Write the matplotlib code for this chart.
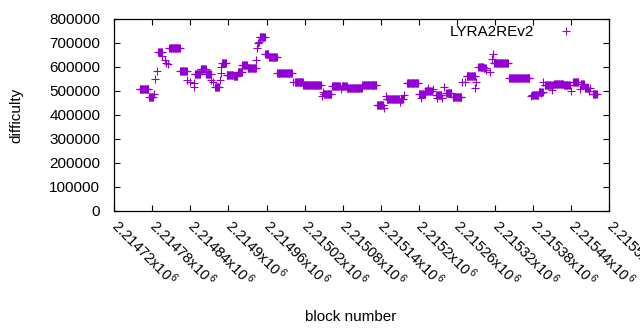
import numpy as np
import matplotlib
matplotlib.use("Agg")
import matplotlib.pyplot as plt

plt.rcParams['font.family'] = ['Liberation Sans', 'DejaVu Sans']
plt.rcParams['mathtext.fontset'] = 'custom'
plt.rcParams['mathtext.rm'] = 'Liberation Sans'
plt.rcParams['mathtext.default'] = 'regular'

# ---- data: runs of blocks with constant difficulty ----
seg_start = [2214760, 2214775, 2214782, 2214784, 2214787, 2214789, 2214796, 2214800, 2214802, 2214805,
             2214807, 2214824, 2214835, 2214839, 2214845, 2214846, 2214847, 2214856, 2214865, 2214873,
             2214876, 2214879, 2214886, 2214888, 2214889, 2214890, 2214897, 2214908, 2214915, 2214922,
             2214930, 2214944, 2214945, 2214946, 2214948, 2214949, 2214958, 2214964, 2214977, 2215002,
             2215005, 2215018, 2215048, 2215049, 2215050, 2215063, 2215077, 2215079, 2215087, 2215111,
             2215134, 2215145, 2215148, 2215149, 2215170, 2215171, 2215177, 2215181, 2215200, 2215204,
             2215205, 2215210, 2215214, 2215215, 2215222, 2215227, 2215229, 2215230, 2215236, 2215240,
             2215243, 2215253, 2215268, 2215272, 2215275, 2215289, 2215290, 2215293, 2215295, 2215302,
             2215306, 2215312, 2215315, 2215317, 2215318, 2215342, 2215376, 2215378, 2215389, 2215393,
             2215394, 2215396, 2215398, 2215410, 2215411, 2215413, 2215428, 2215440, 2215443, 2215454,
             2215455, 2215461, 2215468, 2215469, 2215474]
seg_end = [2214774, 2214781, 2214782, 2214784, 2214787, 2214795, 2214796, 2214800, 2214802, 2214805,
           2214823, 2214834, 2214835, 2214839, 2214845, 2214846, 2214855, 2214864, 2214872, 2214873,
           2214876, 2214885, 2214886, 2214888, 2214889, 2214896, 2214907, 2214914, 2214921, 2214929,
           2214943, 2214944, 2214945, 2214946, 2214948, 2214957, 2214963, 2214976, 2215000, 2215002,
           2215017, 2215045, 2215048, 2215049, 2215062, 2215075, 2215077, 2215086, 2215110, 2215133,
           2215144, 2215145, 2215148, 2215169, 2215170, 2215175, 2215177, 2215199, 2215203, 2215204,
           2215209, 2215213, 2215214, 2215220, 2215222, 2215228, 2215229, 2215235, 2215236, 2215240,
           2215251, 2215267, 2215268, 2215272, 2215288, 2215289, 2215290, 2215293, 2215301, 2215305,
           2215306, 2215312, 2215315, 2215317, 2215340, 2215374, 2215376, 2215388, 2215392, 2215393,
           2215395, 2215396, 2215409, 2215410, 2215411, 2215427, 2215438, 2215440, 2215451, 2215454,
           2215460, 2215467, 2215468, 2215469, 2215480]
seg_value = [509000, 473000, 488000, 550000, 584000, 661000, 644000, 629000, 618000, 613000,
             679000, 584000, 546000, 539000, 532000, 516000, 570000, 593000, 570000, 546000,
             539000, 517000, 546000, 574000, 599000, 617000, 567000, 561000, 580000, 610000,
             596000, 630000, 678000, 699000, 706000, 725000, 654000, 642000, 575000, 536000,
             538000, 524000, 478000, 495000, 488000, 521000, 509000, 520000, 513000, 523000,
             442000, 430000, 481000, 467000, 456000, 467000, 484000, 534000, 487000, 470000,
             487000, 498000, 511000, 498000, 509000, 484000, 470000, 484000, 470000, 518000,
             492000, 476000, 539000, 539000, 563000, 511000, 539000, 599000, 600000, 595000,
             589000, 578000, 634000, 654000, 617000, 555000, 481000, 484000, 495000, 491000,
             495000, 539000, 524000, 505000, 524000, 530000, 526000, 502000, 539000, 509000,
             528000, 513000, 502000, 513000, 488000]

xtick_values = [2214720, 2214780, 2214840, 2214900, 2214960, 2215020, 2215080,
                2215140, 2215200, 2215260, 2215320, 2215380, 2215440, 2215500]
xtick_mantissa = ["2.21472", "2.21478", "2.21484", "2.2149", "2.21496", "2.21502", "2.21508",
                  "2.21514", "2.2152", "2.21526", "2.21532", "2.21538", "2.21544", "2.2155"]
ytick_values = [0, 100000, 200000, 300000, 400000, 500000, 600000, 700000, 800000]

blocks = np.concatenate([np.arange(s, e + 1) for s, e in zip(seg_start, seg_end)])
diff = np.concatenate([np.full(e - s + 1, v) for s, e, v in zip(seg_start, seg_end, seg_value)])

fig = plt.figure(figsize=(6.4, 3.3), dpi=100)
ax = fig.add_axes([114.2 / 640, 1 - 211 / 330, 495.2 / 640, 192 / 330])

ax.plot(blocks, diff, linestyle='none', marker='+', markersize=5.2, markeredgewidth=0.8,
        color='#9400d3', label='LYRA2REv2')

ax.set_xlim(xtick_values[0], xtick_values[-1])
ax.set_ylim(0, 800000)
ax.set_yticks(ytick_values)
ax.set_yticklabels([str(v) for v in ytick_values])
ax.set_xticks(xtick_values)
ax.set_xticklabels([m + r"x10$^{\,6}$" for m in xtick_mantissa], rotation=-45,
                   rotation_mode='anchor', ha='left', va='center')

ax.tick_params(axis='both', direction='in', length=4, width=0.8, top=True, right=True,
               labelsize=11, colors='black')
ax.tick_params(axis='x', labelsize=10.5, pad=8)
ax.tick_params(axis='y', pad=10)
for sp in ax.spines.values():
    sp.set_linewidth(0.9)

ax.set_xlabel('block number', fontsize=11)
ax.set_ylabel('difficulty', fontsize=11)
ax.xaxis.set_label_coords(0.478, -0.516)
ax.yaxis.set_label_coords(-0.184, 0.5)

ax.legend(loc='center right', bbox_to_anchor=((580.8 - 114.2) / 495.2, (211 - 32) / 192),
          frameon=False, markerfirst=False, numpoints=1, borderpad=0, borderaxespad=0,
          handlelength=2, handletextpad=1.05, fontsize=11)

fig.savefig('out.png', dpi=100)
